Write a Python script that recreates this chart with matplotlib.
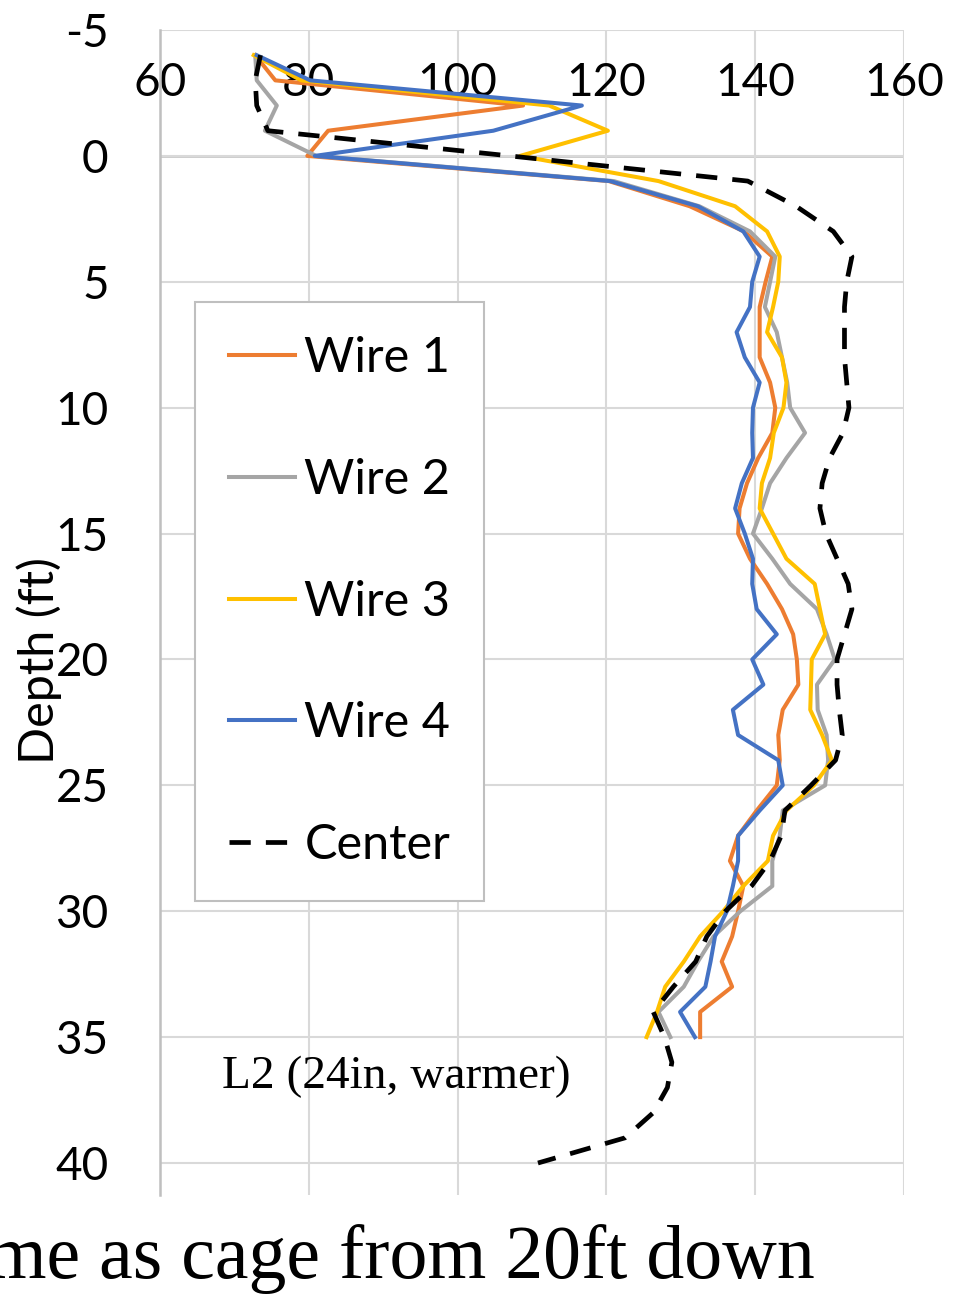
import matplotlib
matplotlib.use('Agg')
import matplotlib.pyplot as plt

plt.rcParams['font.family'] = ['Lato', 'DejaVu Sans']
plt.rcParams['axes.unicode_minus'] = False

# depth (ft) for the four wires and for the centre line
depth_wire = list(range(-4, 36))
depth_center = list(range(-4, 41))

wire1 = [72.8, 75.5, 108.8, 82.6, 79.8, 120.3, 131.2, 138.5, 142.3, 141.4,
         140.6, 140.6, 140.6, 142.0, 142.7, 142.3, 140.4, 138.9, 137.9, 137.7,
         139.3, 141.6, 143.6, 145.1, 145.6, 145.8, 143.7, 143.1, 143.3, 142.9,
         140.2, 137.7, 136.6, 138.4, 137.7, 136.9, 135.5, 136.9, 132.6, 132.6]
wire2 = [72.8, 73.0, 75.7, 74.1, 81.0, 121.0, 132.5, 139.3, 142.7, 142.0,
         141.3, 142.9, 143.6, 144.3, 144.7, 146.7, 144.2, 142.0, 140.9, 139.7,
         142.3, 144.7, 148.3, 149.6, 150.7, 148.3, 148.4, 149.6, 149.8, 149.4,
         143.7, 143.3, 142.3, 142.3, 138.0, 134.4, 132.3, 130.4, 127.0, 128.6]
wire3 = [72.6, 79.0, 112.3, 120.2, 108.4, 127.0, 137.3, 141.6, 143.3, 143.1,
         142.4, 141.6, 143.6, 144.2, 143.8, 142.5, 142.0, 140.9, 140.6, 142.4,
         144.2, 148.0, 148.7, 149.4, 147.6, 147.5, 147.4, 149.0, 150.3, 147.9,
         144.2, 142.4, 141.7, 138.4, 135.7, 132.6, 130.4, 127.9, 126.8, 125.4]
wire4 = [73.0, 80.2, 116.7, 104.8, 80.8, 120.5, 132.3, 138.4, 140.6, 139.6,
         139.3, 137.5, 138.6, 140.6, 139.7, 139.6, 139.7, 138.2, 137.3, 138.6,
         139.7, 139.6, 140.2, 142.9, 139.6, 141.1, 137.0, 137.7, 143.1, 143.7,
         140.6, 137.7, 137.7, 137.0, 136.2, 134.6, 134.0, 133.3, 129.9, 131.9]
center = [73.5, 72.8, 73.0, 74.5, 107.0, 139.0, 145.5, 150.5, 153.0, 152.3,
          152.0, 152.0, 152.0, 152.3, 152.6, 151.8, 150.0, 149.0, 148.7, 149.5,
          151.0, 152.5, 153.0, 152.0, 151.0, 151.0, 151.3, 151.7, 150.8, 147.5,
          144.0, 143.5, 142.0, 139.5, 136.0, 133.5, 132.0, 129.0, 126.3, 127.8,
          128.8, 128.2, 126.3, 122.5, 110.8]

xticks = [60, 80, 100, 120, 140, 160]
yticks = [-5, 0, 5, 10, 15, 20, 25, 30, 35, 40]

fig = plt.figure(figsize=(9.65, 13.07), dpi=100)
W, H = 965, 1307
ax = fig.add_axes([160 / W, 1 - 1195 / H, (904 - 160) / W, (1195 - 30) / H])

ax.plot(wire1, depth_wire, color='#ED7D31', lw=2.9, label='Wire 1')
ax.plot(wire2, depth_wire, color='#A5A5A5', lw=2.9, label='Wire 2')
ax.plot(wire3, depth_wire, color='#FFC000', lw=2.9, label='Wire 3')
ax.plot(wire4, depth_wire, color='#4472C4', lw=2.9, label='Wire 4')
ax.plot(center, depth_center, color='black', lw=3.4, ls=(0, (4.5, 3.2)),
        label='Center')

ax.set_xlim(60, 160)
ax.set_ylim(41.27, -5)
ax.set_xticks(xticks)
ax.set_yticks(yticks)
ax.grid(True, color='#D9D9D9', lw=1.5)
ax.set_axisbelow(True)
ax.axhline(0, color='#BFBFBF', lw=1.8, zorder=0.5)
for s in ['top', 'right', 'bottom']:
    ax.spines[s].set_visible(False)
ax.spines['left'].set_color('#BFBFBF')
ax.spines['left'].set_linewidth(1.8)

ax.xaxis.tick_top()
ax.tick_params(axis='x', length=0, labelsize=33, pad=-53)
ax.tick_params(axis='y', length=0, labelsize=33, pad=37)
for t in ax.get_xticklabels():
    t.set_va('bottom')

ax.set_ylabel('Depth (ft)', fontsize=35)
ax.yaxis.set_label_coords(-0.132, 0.459)

leg = ax.legend(loc='upper left', bbox_to_anchor=(195 / W, 1 - 302 / H),
                bbox_transform=fig.transFigure, fontsize=35, frameon=True,
                fancybox=False, edgecolor='#BFBFBF', framealpha=1,
                borderaxespad=0, borderpad=0.7, labelspacing=1.6,
                handlelength=1.35, handletextpad=0.2)
leg.get_frame().set_linewidth(1.5)

fig.text(222 / W, 1 - 1077 / H, 'L2 (24in, warmer)', family='Liberation Serif',
         fontsize=34, va='center')
fig.text(815 / W, 1 - 1278 / H, 'ame as cage from 20ft down',
         family='Liberation Serif', fontsize=54.5, ha='right', va='baseline')

fig.savefig('out.png', dpi=100)
